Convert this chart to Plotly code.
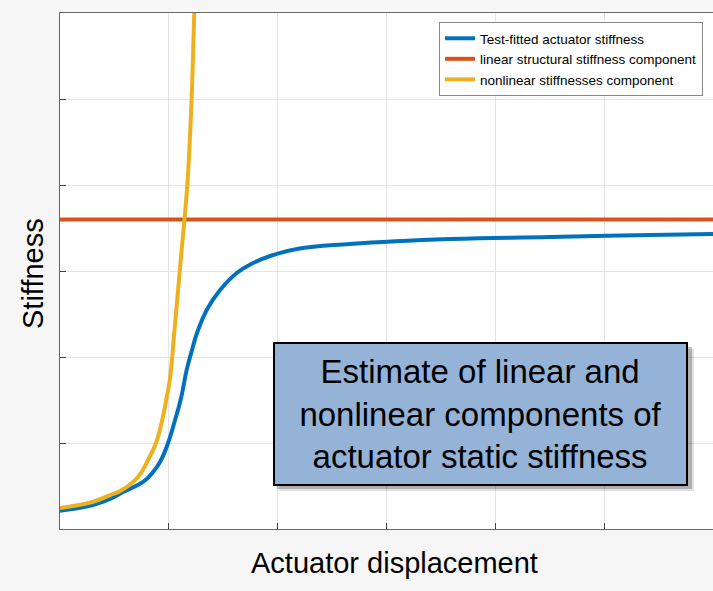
import plotly.graph_objects as go

# ---- data ----
x_fitted = [0, 0.303, 0.460, 0.579, 0.763, 0.855, 0.919, 0.993, 1.057, 1.112,
            1.164, 1.213, 1.259, 1.348, 1.471, 1.624, 1.774, 1.958, 2.178,
            2.665, 3.585, 4.504, 5.423, 6.0]
y_fitted = [0.213, 0.279, 0.349, 0.430, 0.547, 0.663, 0.779, 1.0, 1.267, 1.52,
            1.85, 2.08, 2.279, 2.547, 2.779, 2.977, 3.093, 3.186, 3.256,
            3.314, 3.372, 3.395, 3.419, 3.43]

x_linear = [0, 6.0]
y_linear = [3.60, 3.60]

x_nonlin = [0, 0.303, 0.460, 0.570, 0.717, 0.809, 0.882, 0.935, 0.981, 1.011,
            1.048, 1.085, 1.121, 1.143, 1.174, 1.210, 1.234, 1.259]
y_nonlin = [0.244, 0.317, 0.395, 0.453, 0.605, 0.802, 1.0, 1.244, 1.535, 1.756,
            2.256, 2.779, 3.291, 3.593, 4.08, 5.03, 6.0, 6.849]

names = ["Test-fitted actuator stiffness",
         "linear structural stiffness component",
         "nonlinear stiffnesses component"]
colors = ["#0072BD", "#D95319", "#EDB120"]
tick_vals = [0, 1, 2, 3, 4, 5, 6]

W, H = 713, 591
L, R, T, B = 60, 0, 13, 62
pw, ph = W - L - R, H - T - B


def px(xp):
    return (xp - L) / pw


def py(yp):
    return (H - B - yp) / ph


fig = go.Figure()
fig.add_trace(go.Scatter(x=x_fitted, y=y_fitted, mode="lines", name=names[0],
                         line=dict(color=colors[0], width=4, shape="spline",
                                   smoothing=1.3)))
fig.add_trace(go.Scatter(x=x_linear, y=y_linear, mode="lines", name=names[1],
                         line=dict(color=colors[1], width=4)))
fig.add_trace(go.Scatter(x=x_nonlin, y=y_nonlin, mode="lines", name=names[2],
                         line=dict(color=colors[2], width=4, shape="spline",
                                   smoothing=1.3)))

axis_common = dict(showticklabels=False, ticks="inside", ticklen=6,
                   tickcolor="#444", showgrid=True, gridcolor="#e4e4e4",
                   gridwidth=1, showline=True, linecolor="#666", linewidth=1,
                   zeroline=False, tickvals=tick_vals)

fig.update_layout(
    width=W, height=H,
    margin=dict(l=L, r=R, t=T, b=B),
    paper_bgcolor="#f6f6f6",
    plot_bgcolor="white",
    font=dict(family="Liberation Sans, Arial, sans-serif", color="black"),
    xaxis=dict(range=[0, 6.0], mirror=True, **axis_common),
    yaxis=dict(range=[0, 6.0], mirror=False, **axis_common),
    showlegend=True,
    legend=dict(x=px(703), y=py(22), xanchor="right", yanchor="top",
                bgcolor="white", bordercolor="#888", borderwidth=1,
                font=dict(size=13.5, family="Liberation Sans, Arial, sans-serif"),
                tracegroupgap=0, itemwidth=30),
)

# shadow behind the text box
fig.add_shape(type="rect", xref="paper", yref="paper",
              x0=px(279), x1=px(694), y0=py(491), y1=py(349),
              fillcolor="rgba(0,0,0,0.12)", line=dict(width=0), layer="above")
fig.add_shape(type="rect", xref="paper", yref="paper",
              x0=px(277), x1=px(692), y0=py(489), y1=py(347),
              fillcolor="rgba(0,0,0,0.22)", line=dict(width=0), layer="above")

fig.add_annotation(
    xref="paper", yref="paper", x=px(480.5), y=py(414),
    xanchor="center", yanchor="middle", showarrow=False,
    text="Estimate of linear and<br>nonlinear components of<br>actuator static stiffness",
    font=dict(size=33, color="black", family="Liberation Sans, Arial, sans-serif"),
    align="center", bgcolor="#95B3D7", bordercolor="black", borderwidth=2,
    borderpad=3, width=405, height=134,
)

# axis titles
fig.add_annotation(xref="paper", yref="paper", x=px(394), y=py(563),
                   xanchor="center", yanchor="middle", showarrow=False,
                   text="Actuator displacement",
                   font=dict(size=29, color="black"))
fig.add_annotation(xref="paper", yref="paper", x=px(33), y=py(274),
                   xanchor="center", yanchor="middle", showarrow=False,
                   text="Stiffness", textangle=-90,
                   font=dict(size=29, color="black"))

fig.write_html("out.html",
               config={"displayModeBar": False},
               post_script="document.body.style.margin='0px';"
                           "document.body.style.padding='0px';"
                           "document.body.style.background='#f6f6f6';")
